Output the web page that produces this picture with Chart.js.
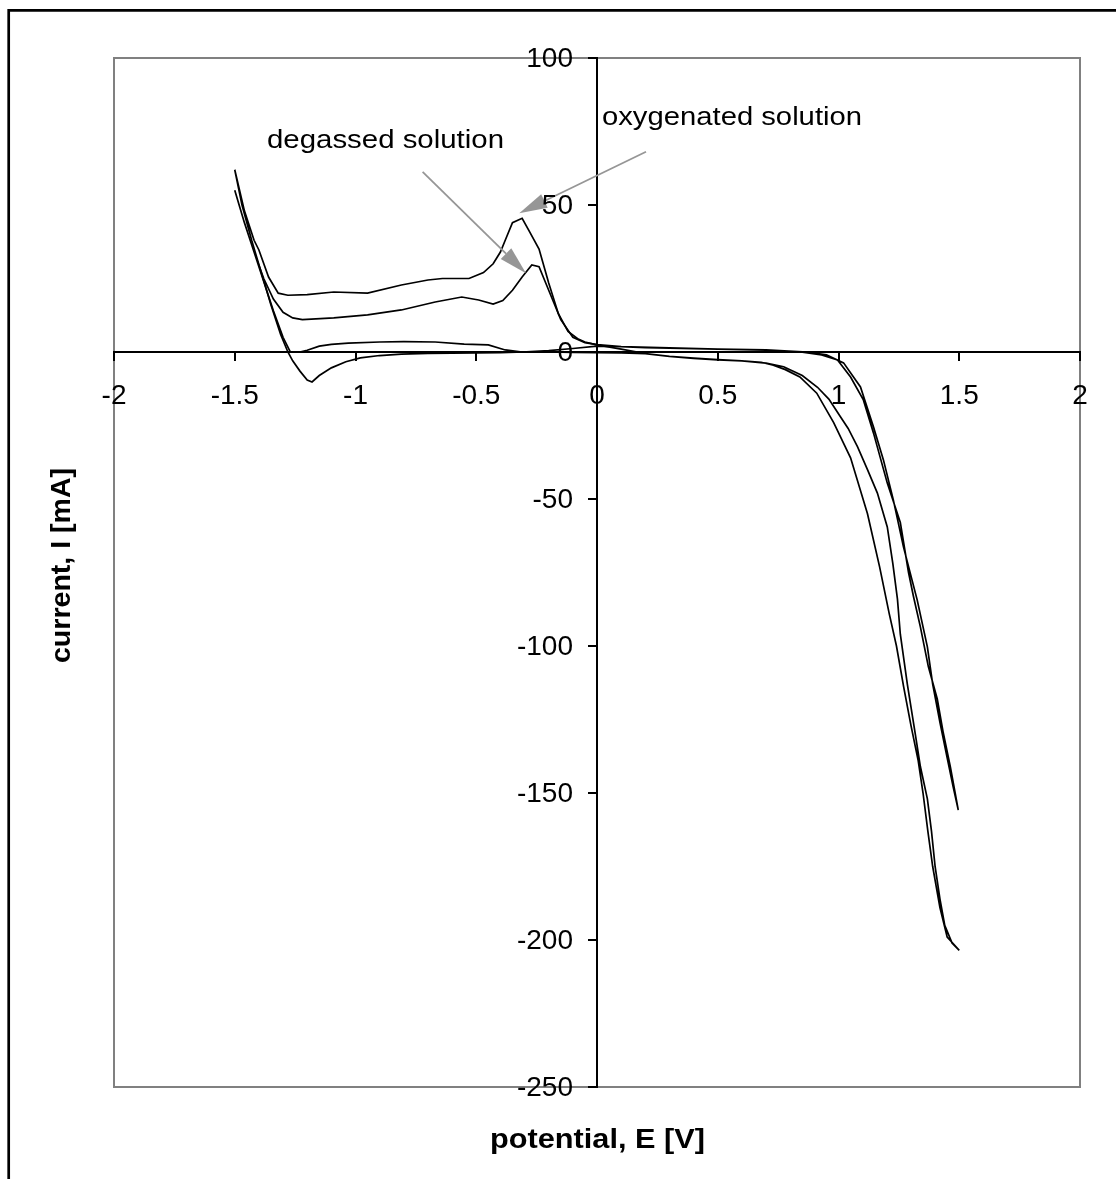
<!DOCTYPE html>
<html>
<head>
<meta charset="utf-8">
<title>Cyclic voltammogram</title>
<script src="https://cdn.jsdelivr.net/npm/chart.js@4.4.1/dist/chart.umd.min.js"></script>
<style>
  html, body { margin: 0; padding: 0; background: #fff; }
  #wrap { width: 1116px; height: 1179px; position: relative; }
</style>
</head>
<body>
<div id="wrap"><canvas id="cv"></canvas></div>
<script>
// oxygenated solution: 0 -> +1.5 -> 0 -> -1.5 -> 0
const oxyPotential = [
  0, 0.1, 0.2, 0.3, 0.4, 0.5, 0.6, 0.68, 0.73, 0.78, 0.84, 0.91, 0.98, 1.05, 1.12, 1.17, 1.21, 1.24, 1.27, 1.3, 1.33, 1.35, 1.37, 1.39, 1.42, 1.45, 1.5,
  1.47, 1.44, 1.42, 1.4, 1.385, 1.368, 1.339, 1.318, 1.285, 1.256, 1.244, 1.225, 1.202, 1.161, 1.12, 1.079, 1.04, 1.008, 0.96, 0.913, 0.85, 0.773, 0.7, 0.6, 0.5, 0.4, 0.3, 0.2, 0.1, 0,
  -0.1, -0.2, -0.3, -0.4, -0.5, -0.6, -0.7, -0.81, -0.9, -0.98, -1.04, -1.1, -1.15, -1.18, -1.2, -1.23, -1.26, -1.28, -1.31, -1.35, -1.39, -1.43, -1.47, -1.5,
  -1.46, -1.42, -1.4, -1.36, -1.32, -1.28, -1.2, -1.09, -0.95, -0.81, -0.7, -0.64, -0.53, -0.47, -0.43, -0.4, -0.38, -0.35, -0.31, -0.28, -0.24, -0.2, -0.16, -0.12, -0.08, -0.05, 0
];
const oxyCurrent = [
  2.4, 1.0, -0.5, -1.5, -2.2, -2.7, -3.0, -3.5, -4.5, -6, -8.5, -14, -24, -36, -55, -73, -89, -100, -114, -127, -139, -150, -163, -175, -189, -199, -203.5,
  -201, -195, -186, -175, -163, -152, -141, -130, -113, -96, -84, -72, -59.5, -48, -40, -32.3, -26, -22, -16, -12, -8, -5, -3.8, -3.0, -2.6, -2.1, -1.5, -0.6, -0.3, -0.2,
  -0.1, 0, 0, -0.2, -0.3, -0.4, -0.5, -0.7, -1.2, -2, -3.3, -5.4, -8, -10.2, -9.5, -6.5, -3, 0, 6, 16, 27, 38, 50, 62,
  48, 38, 34.7, 25.5, 20, 19.3, 19.5, 20.4, 20, 22.8, 24.5, 25, 25, 27, 30, 34, 38, 44, 45.5, 41, 35, 23.5, 13, 7, 4.5, 3.4, 2.4
];

// degassed solution, same sweep
const degPotential = [
  0, 0.1, 0.2, 0.3, 0.5, 0.7, 0.8, 0.843, 0.93, 0.996, 1.05, 1.103, 1.145, 1.202, 1.256, 1.29, 1.31, 1.339, 1.372, 1.409, 1.434, 1.463, 1.483, 1.496,
  1.475, 1.45, 1.42, 1.39, 1.368, 1.326, 1.269, 1.227, 1.186, 1.145, 1.091, 1.021, 0.95, 0.87, 0.7, 0.5, 0.3, 0.1, 0,
  -0.1, -0.2, -0.31, -0.38, -0.45, -0.55, -0.67, -0.8, -0.9, -1.03, -1.1, -1.15, -1.2, -1.23, -1.27, -1.3, -1.34, -1.38, -1.42, -1.46, -1.5,
  -1.46, -1.42, -1.38, -1.34, -1.3, -1.26, -1.22, -1.09, -0.95, -0.81, -0.67, -0.56, -0.49, -0.43, -0.39, -0.35, -0.31, -0.27, -0.24, -0.2, -0.15, -0.1, -0.05, 0
];
const degCurrent = [
  2.5, 1.8, 1.5, 1.3, 1.0, 0.6, 0.2, 0, -1, -2.7, -8.5, -16.3, -27.6, -44.6, -58, -75, -83, -93.5, -107, -118, -129.6, -141, -150, -155.8,
  -148, -138, -126, -113, -100.3, -84.4, -66.3, -50.3, -36.7, -25.5, -11.9, -3.7, -1, 0, 0.7, 1.0, 1.4, 1.8, 2.0,
  1.2, 0.5, 0, 0.7, 2.4, 2.7, 3.4, 3.5, 3.4, 3, 2.6, 2, 0.6, 0, 0, 5, 14, 24, 34, 44, 55,
  44, 34, 25, 18, 13.5, 11.6, 11, 11.6, 12.6, 14.3, 17, 18.7, 17.7, 16.3, 17.5, 21, 25.5, 29.6, 29, 21, 11, 5, 3.2, 2.5
];

const potentialTicks = [-2, -1.5, -1, -0.5, 0, 0.5, 1, 1.5, 2];
const currentTicks = [-250, -200, -150, -100, -50, 0, 50, 100];

// callouts: label, arrow tail and arrow tip in (E, I)
const calloutLabels = ['degassed solution', 'oxygenated solution'];
const calloutTails = [[-0.722, 61.3], [0.203, 68.1]];
const calloutTips = [[-0.294, 26.8], [-0.322, 47.2]];

const FONT = '"Liberation Sans", Arial, sans-serif';
const TICK_LEN = 8;

const toPoints = (xs, ys) => xs.map((x, i) => ({ x: x, y: ys[i] }));

// draw text squeezed/stretched to a given width
function fitText(ctx, text, x, y, width) {
  const w = ctx.measureText(text).width;
  ctx.save();
  ctx.translate(x, y);
  ctx.scale(width / w, 1);
  ctx.fillText(text, 0, 0);
  ctx.restore();
}

function arrow(ctx, x1, y1, x2, y2) {
  const a = Math.atan2(y2 - y1, x2 - x1);
  const len = 28, half = 7.5;
  const bx = x2 - len * Math.cos(a), by = y2 - len * Math.sin(a);
  ctx.beginPath();
  ctx.moveTo(x1, y1);
  ctx.lineTo(bx, by);
  ctx.stroke();
  ctx.beginPath();
  ctx.moveTo(x2, y2);
  ctx.lineTo(bx + half * Math.sin(a), by - half * Math.cos(a));
  ctx.lineTo(bx - half * Math.sin(a), by + half * Math.cos(a));
  ctx.closePath();
  ctx.fill();
}

const frames = {
  id: 'frames',
  beforeDraw(chart) {
    const { ctx, chartArea: a } = chart;
    ctx.save();
    ctx.fillStyle = '#fff';
    ctx.fillRect(0, 0, chart.width, chart.height);
    // outer border, runs off the right and bottom edges
    ctx.strokeStyle = '#000';
    ctx.lineWidth = 2.7;
    ctx.beginPath();
    ctx.moveTo(8.7, chart.height + 5);
    ctx.lineTo(8.7, 10.3);
    ctx.lineTo(chart.width + 5, 10.3);
    ctx.stroke();
    // plot area
    ctx.strokeStyle = '#808080';
    ctx.lineWidth = 2;
    ctx.strokeRect(a.left, a.top, a.right - a.left, a.bottom - a.top);
    ctx.restore();
  }
};

// y labels sit left of the crossing axis (the library puts them on the line)
const yLabels = {
  id: 'yLabels',
  afterDraw(chart) {
    const { ctx, scales: { x, y } } = chart;
    const x0 = x.getPixelForValue(0);
    ctx.save();
    ctx.fillStyle = '#000';
    ctx.font = '28px ' + FONT;
    ctx.textAlign = 'right';
    ctx.textBaseline = 'middle';
    y.ticks.forEach(t => {
      ctx.fillText(String(t.value), x0 - TICK_LEN - 16, y.getPixelForValue(t.value) + 1);
    });
    ctx.restore();
  }
};

const callouts = {
  id: 'callouts',
  afterDatasetsDraw(chart) {
    const { ctx, scales: { x, y } } = chart;
    ctx.save();
    ctx.strokeStyle = '#969696';
    ctx.fillStyle = '#969696';
    ctx.lineWidth = 1.8;
    calloutTails.forEach((t, i) => {
      arrow(ctx, x.getPixelForValue(t[0]), y.getPixelForValue(t[1]),
        x.getPixelForValue(calloutTips[i][0]), y.getPixelForValue(calloutTips[i][1]));
    });
    ctx.fillStyle = '#000';
    ctx.font = '26px ' + FONT;
    ctx.textBaseline = 'alphabetic';
    ctx.textAlign = 'left';
    fitText(ctx, calloutLabels[0], 267, 148, 237);
    fitText(ctx, calloutLabels[1], 602, 125, 260);
    ctx.restore();
  },
  afterDraw(chart) {
    const { ctx } = chart;
    ctx.save();
    ctx.fillStyle = '#000';
    ctx.font = 'bold 28px ' + FONT;
    ctx.textAlign = 'left';
    ctx.textBaseline = 'alphabetic';
    fitText(ctx, 'potential, E [V]', 490, 1148, 215);
    ctx.translate(70, 566);
    ctx.rotate(-Math.PI / 2);
    fitText(ctx, 'current, I [mA]', -97, 0, 195);
    ctx.restore();
  }
};

const gridStyle = { drawOnChartArea: false, drawTicks: true, tickLength: TICK_LEN, color: '#000', lineWidth: 2 };
const borderStyle = { display: true, color: '#000', width: 2 };

new Chart(document.getElementById('cv'), {
  type: 'scatter',
  data: {
    datasets: [
      { label: 'oxygenated solution', data: toPoints(oxyPotential, oxyCurrent) },
      { label: 'degassed solution', data: toPoints(degPotential, degCurrent) }
    ].map(d => Object.assign(d, {
      showLine: true, pointRadius: 0, borderColor: '#000', borderWidth: 1.7, tension: 0, fill: false
    }))
  },
  options: {
    responsive: true,
    maintainAspectRatio: false,
    animation: false,
    events: [],
    layout: { padding: { left: 114, top: 58, right: 36, bottom: 92 } },
    plugins: { legend: { display: false }, tooltip: { enabled: false } },
    scales: {
      x: {
        type: 'linear', min: -2, max: 2, position: { y: 0 },
        afterBuildTicks: s => { s.ticks = potentialTicks.map(v => ({ value: v })); },
        ticks: {
          color: '#000', font: { family: FONT, size: 28 }, padding: 19, autoSkip: false, maxRotation: 0,
          callback: v => String(v)
        },
        grid: gridStyle,
        border: borderStyle
      },
      y: {
        type: 'linear', min: -250, max: 100, position: { x: 0 },
        afterBuildTicks: s => { s.ticks = currentTicks.map(v => ({ value: v })); },
        ticks: { display: false },
        grid: gridStyle,
        border: borderStyle
      }
    }
  },
  plugins: [frames, yLabels, callouts]
});
</script>
</body>
</html>
